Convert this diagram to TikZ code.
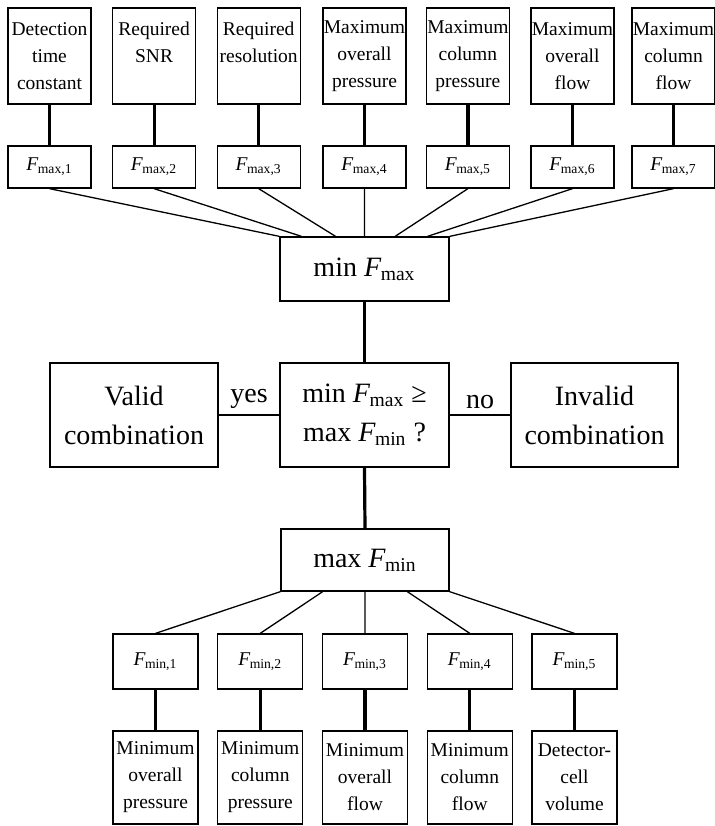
\documentclass[tikz,border=0pt]{standalone}
\usepackage{fontspec}
\setmainfont{Liberation Serif}
\usetikzlibrary{calc}
\newcommand{\smallfnt}{\fontsize{9.75}{13.5}\selectfont}
\newcommand{\bigfnt}{\fontsize{14}{19.5}\selectfont}
\newcommand{\Fsb}[1]{\textit{F}\kern-0.3pt\textsubscript{#1}}
\tikzset{
  box/.style={draw, line width=0.65pt, align=center, inner sep=0pt},
  topbox/.style={box, minimum width=41.5pt, minimum height=48pt, font=\smallfnt},
  fbox/.style={box, minimum width=41.5pt, minimum height=21pt, font=\smallfnt},
  bigbox/.style={box, minimum width=84.5pt, font=\bigfnt},
  lowfbox/.style={box, minimum width=42.5pt, minimum height=27.5pt, font=\smallfnt},
  botbox/.style={box, minimum width=42.5pt, minimum height=46.5pt, font=\smallfnt},
  thickline/.style={line width=1.6pt},
  thinline/.style={line width=0.65pt},
  lbl/.style={font=\bigfnt, inner sep=0pt}
}
\begin{document}
\begin{tikzpicture}[x=0.5pt,y=-0.5pt]
\useasboundingbox (0,0) rectangle (714,826);
% top boxes
\node[topbox] (T1) at (49.5,56) {Detection\\time\\constant};
\node[topbox] (T2) at (154.1,56) {Required\\SNR\\~};
\node[topbox] (T3) at (258.7,56) {Required\\resolution\\~};
\node[topbox] (T4) at (364.5,56) {Maximum\\overall\\pressure};
\node[topbox] (T5) at (467.9,56) {Maximum\\column\\pressure};
\node[topbox] (T6) at (572.5,56) {Maximum\\overall\\flow};
\node[topbox] (T7) at (673.5,56) {Maximum\\column\\flow};
% F max boxes
\node[fbox] (M1) at (49.5,167) {\Fsb{max,1}};
\node[fbox] (M2) at (154.1,167) {\Fsb{max,2}};
\node[fbox] (M3) at (258.7,167) {\Fsb{max,3}};
\node[fbox] (M4) at (364.5,167) {\Fsb{max,4}};
\node[fbox] (M5) at (467.9,167) {\Fsb{max,5}};
\node[fbox] (M6) at (572.5,167) {\Fsb{max,6}};
\node[fbox] (M7) at (673.5,167) {\Fsb{max,7}};
% center column
\node[bigbox, minimum height=32pt] (minF) at (364.5,269) {min \Fsb{max}};
\node[bigbox, minimum height=52pt] (dec) at (364.5,415) {min \Fsb{max} ≥\\max \Fsb{min} ?};
\node[bigbox, minimum width=84pt, minimum height=52pt] (valid) at (134,415) {Valid\\combination};
\node[bigbox, minimum width=83.5pt, minimum height=52pt] (invalid) at (594.5,415) {Invalid\\combination};
\node[bigbox, minimum width=84pt, minimum height=31pt] (maxF) at (365,560) {max \Fsb{min}};
% F min boxes
\node[lowfbox] (N1) at (155.5,661.5) {\Fsb{min,1}};
\node[lowfbox] (N2) at (260.25,661.5) {\Fsb{min,2}};
\node[lowfbox] (N3) at (365,661.5) {\Fsb{min,3}};
\node[lowfbox] (N4) at (469.75,661.5) {\Fsb{min,4}};
\node[lowfbox] (N5) at (574.5,661.5) {\Fsb{min,5}};
% bottom boxes
\node[botbox] (B1) at (155.5,777.5) {Minimum\\overall\\pressure};
\node[botbox] (B2) at (260.25,777.5) {Minimum\\column\\pressure};
\node[botbox] (B3) at (365,777.5) {Minimum\\overall\\flow};
\node[botbox] (B4) at (469.75,777.5) {Minimum\\column\\flow};
\node[botbox] (B5) at (574.5,777.5) {Detector-\\cell\\volume};
% thick connectors
\foreach \i in {1,...,7} {\draw[thickline] (T\i.south) -- (M\i.north);}
\foreach \i in {1,...,5} {\draw[thickline] (N\i.south) -- (B\i.north);}
\draw[thickline] (minF.south) -- (dec.north);
\draw[thickline] (dec.south) -- (maxF.north);
% fan-in to min Fmax
\foreach \i/\f in {1/0,2/0.13,3/0.33,4/0.5,5/0.68,6/0.87,7/1}
  {\draw[thinline] (M\i.south) -- ($(minF.north west)!\f!(minF.north east)$);}
% fan-out from max Fmin
\foreach \i/\f in {1/0,2/0.25,3/0.5,4/0.75,5/1}
  {\draw[thinline] ($(maxF.south west)!\f!(maxF.south east)$) -- (N\i.north);}
% yes / no
\draw[thinline] (valid.east) -- node[lbl, midway, above=3pt] {yes} (dec.west);
\draw[thinline] (dec.east) -- node[lbl, midway, above=3pt] {no} (invalid.west);
\end{tikzpicture}
\end{document}
